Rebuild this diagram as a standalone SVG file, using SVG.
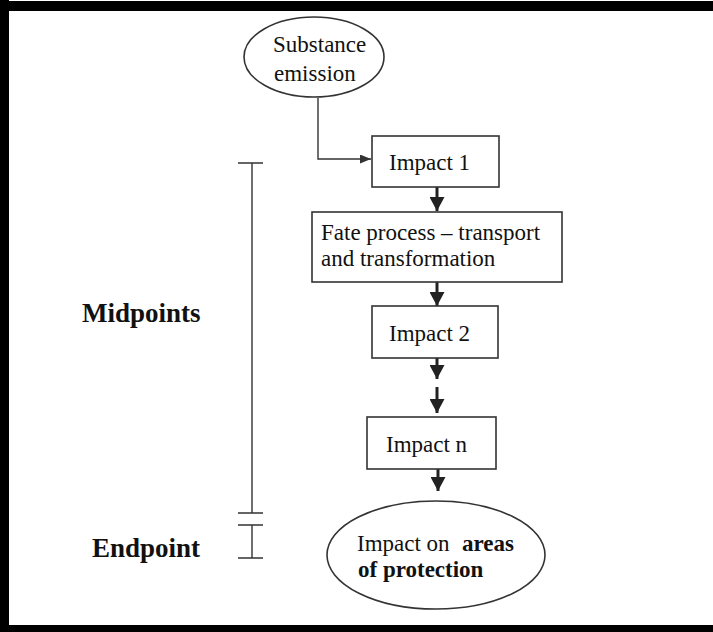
<svg xmlns="http://www.w3.org/2000/svg" width="713" height="632" viewBox="0 0 713 632">
  <style>
    .t { font-family: "Liberation Serif", "Times New Roman", serif; font-size: 23px; fill: #111; }
    .b { font-weight: bold; }
    .lbl { font-family: "Liberation Serif", "Times New Roman", serif; font-size: 27px; font-weight: bold; fill: #111; }
    .shape { fill: #fff; stroke: #333; stroke-width: 1.6; }
    .line { fill: none; stroke: #333; stroke-width: 1.4; }
    .flow { fill: none; stroke: #222; stroke-width: 3; }
  </style>
  <defs>
    <marker id="head" markerUnits="userSpaceOnUse" markerWidth="16" markerHeight="15" refX="14" refY="7.5" orient="auto">
      <path d="M0,0 L14,7.5 L0,15 Z" fill="#222"/>
    </marker>
    <marker id="thin" markerUnits="userSpaceOnUse" markerWidth="12" markerHeight="10" refX="11" refY="4.5" orient="auto">
      <path d="M0,0 L11,4.5 L0,9 Z" fill="#333"/>
    </marker>
  </defs>

  <rect width="713" height="632" fill="#fff"/>

  <!-- frame -->
  <rect x="0" y="1" width="713" height="10" fill="#000"/>
  <rect x="0" y="0" width="9" height="632" fill="#000"/>
  <rect x="0" y="625" width="713" height="7" fill="#000"/>

  <!-- scale bracket on the left -->
  <g id="scale">
    <path class="line" d="M238,163 H263 M252,163 V513 M238,513 H263 M238,525 H263 M252,525 V558 M238,558 H263"/>
    <text class="lbl" x="82" y="322">Midpoints</text>
    <text class="lbl" x="92" y="557">Endpoint</text>
  </g>

  <g id="connectors">
    <path class="line" d="M318,98 V159 H371" marker-end="url(#thin)"/>
    <path class="flow" d="M437,187 V211" marker-end="url(#head)"/>
    <path class="flow" d="M437,282 V306" marker-end="url(#head)"/>
    <path class="flow" d="M437,358 V379" marker-end="url(#head)"/>
    <path class="flow" d="M437,387 V413" marker-end="url(#head)"/>
    <path class="flow" d="M438,469 V491" marker-end="url(#head)"/>
  </g>

  <g id="emission">
    <ellipse class="shape" cx="314" cy="57" rx="70" ry="40"/>
    <text class="t" x="273" y="52">Substance</text>
    <text class="t" x="274" y="81">emission</text>
  </g>

  <g id="impact1">
    <rect class="shape" x="372" y="136" width="127" height="51"/>
    <text class="t" x="389" y="170">Impact 1</text>
  </g>

  <g id="fate">
    <rect class="shape" x="312" y="212" width="250" height="70"/>
    <text class="t" x="321" y="240">Fate process – transport</text>
    <text class="t" x="321" y="266">and transformation</text>
  </g>

  <g id="impact2">
    <rect class="shape" x="372" y="306" width="126" height="52"/>
    <text class="t" x="389" y="341">Impact 2</text>
  </g>

  <g id="impactn">
    <rect class="shape" x="367" y="417" width="129" height="52"/>
    <text class="t" x="386" y="452">Impact n</text>
  </g>

  <g id="protection">
    <ellipse class="shape" cx="436" cy="555" rx="109" ry="54"/>
    <text class="t" x="357" y="551">Impact on <tspan class="b" x="462">areas</tspan></text>
    <text class="t b" x="358" y="577">of protection</text>
  </g>
</svg>
